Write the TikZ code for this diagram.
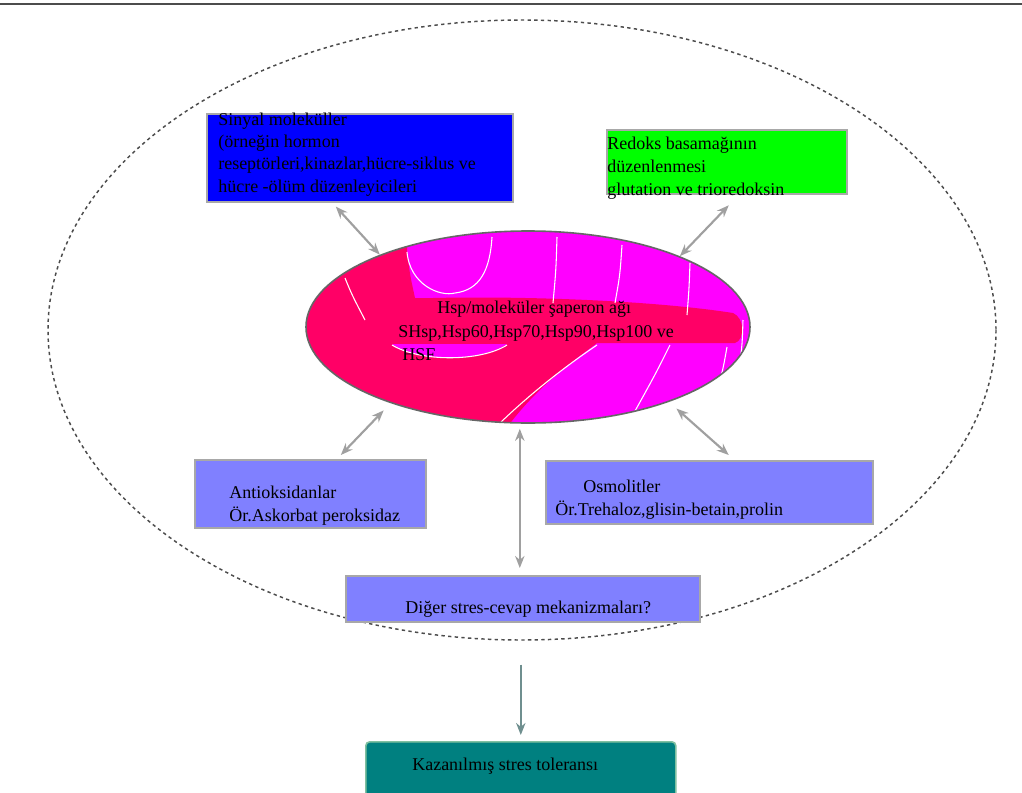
\documentclass[tikz,border=0pt]{standalone}
\usepackage{fontspec}
\setmainfont{Liberation Serif}
\usetikzlibrary{shapes.geometric,arrows.meta,calc}
\definecolor{boxblue}{HTML}{0000FF}
\definecolor{boxgreen}{HTML}{00FF00}
\definecolor{boxlav}{HTML}{8080FF}
\definecolor{hspmag}{HTML}{FF00FF}
\definecolor{hspred}{HTML}{FF0066}
\definecolor{tealbox}{HTML}{008080}
\definecolor{tealedge}{HTML}{80C0A0}
\definecolor{framegray}{HTML}{A8A8A8}
\definecolor{arrgray}{HTML}{A0A0A0}
\definecolor{downgray}{HTML}{6F8F8F}
\tikzset{
  pbox/.style={draw=framegray, line width=1.2pt, inner sep=0pt, anchor=north west},
  txt/.style={anchor=base west, inner sep=0pt, font=\fontsize{13.5}{16}\selectfont},
  dbl/.style={draw=arrgray, line width=1.6pt,
    {Stealth[length=9pt,width=7pt]}-{Stealth[length=9pt,width=7pt]}},
  downarr/.style={draw=downgray, line width=1.6pt, -{Stealth[length=9pt,width=7pt]}},
  wl/.style={draw=white, line width=0.8pt}
}
\begin{document}
\begin{tikzpicture}[x=0.75pt,y=-0.75pt]
\useasboundingbox (0,0) rectangle (1022,793);
\fill[white] (0,0) rectangle (1022,793);
% top rule
\draw[gray!60!black, line width=1.5pt] (0,4) -- (1022,4);
% outer dashed ellipse
\draw[gray!60!black, line width=1.1pt, dash pattern=on 2.5pt off 2.5pt] (522,330) ellipse [x radius=474, y radius=310];

% boxes
\node[pbox, fill=boxblue, minimum width=229.5pt, minimum height=66pt] (sig) at (206,113) {};
\node[pbox, fill=boxgreen, minimum width=180pt, minimum height=48pt] (red) at (606,129) {};
\node[pbox, fill=boxlav, minimum width=173.25pt, minimum height=51pt] (anti) at (194,459) {};
\node[pbox, fill=boxlav, minimum width=245.25pt, minimum height=47.25pt] (osmo) at (545,460) {};
\node[pbox, fill=boxlav, minimum width=265.5pt, minimum height=34.5pt] (dig) at (345,575) {};
\node[pbox, draw=tealedge, fill=tealbox, rounded corners=3pt, minimum width=232.5pt, minimum height=45pt] (kaz) at (365,741) {};

% chaperone ellipse
\begin{scope}
\clip (528,327) ellipse [x radius=222, y radius=96];
\fill[hspmag] (290,220) rectangle (770,440);
\fill[hspred] (290,220) -- (407,220) -- (407,252) .. controls (410,275) .. (415,298) -- (433,298)
  .. controls (520,296) and (650,300) .. (733,313) .. controls (745,318) and (745,340) .. (735,343)
  -- (597,343) .. controls (560,370) and (527,397) .. (498,440) -- (290,440) -- cycle;
\fill[hspmag] (392,344) .. controls (420,362) and (480,362) .. (507,344) -- cycle;
\draw[wl] (345,278) .. controls (352,295) .. (365,320);
\draw[wl] (407,252) .. controls (410,285) and (440,297) .. (455,293) .. controls (480,290) and (490,270) .. (492,237);
\draw[wl] (557,237) .. controls (556,270) .. (553,303);
\draw[wl] (622,245) .. controls (620,275) .. (615,303);
\draw[wl] (690,263) .. controls (689,290) .. (687,315);
\draw[wl] (743,320) .. controls (742,350) .. (737,377);
\draw[wl] (597,345) .. controls (560,370) and (527,397) .. (500,423);
\draw[wl] (670,345) .. controls (655,375) .. (630,420);
\draw[wl] (727,347) .. controls (722,375) .. (712,400);
\draw[wl] (392,345) .. controls (420,362) and (480,362) .. (507,345);
\end{scope}
\node[ellipse, draw=gray!80!black, line width=1.2pt, minimum width=333pt, minimum height=144pt, inner sep=0pt] (hsp) at (528,327) {};

% texts
\node[txt] (s1) at (218,125) {Sinyal moleküller};
\node[txt] (s2) at (218,147) {(örneğin hormon};
\node[txt] (s3) at (218,169) {reseptörleri,kinazlar,hücre-siklus ve};
\node[txt] (s4) at (218,192) {hücre -ölüm düzenleyicileri};
\node[txt] (r1) at (607,149) {Redoks basamağının};
\node[txt] (r2) at (607,172) {düzenlenmesi};
\node[txt] (r3) at (607,195) {glutation ve trioredoksin};
\node[txt] (h1) at (437,313) {Hsp/moleküler şaperon ağı};
\node[txt] (h2) at (398,337) {SHsp,Hsp60,Hsp70,Hsp90,Hsp100 ve};
\node[txt] (h3) at (402,360) {HSF};
\node[txt] (a1) at (229,498) {Antioksidanlar};
\node[txt] (a2) at (229,521) {Ör.Askorbat peroksidaz};
\node[txt] (o1) at (583,492) {Osmolitler};
\node[txt] (o2) at (555,515) {Ör.Trehaloz,glisin-betain,prolin};
\node[txt] (d1) at (405,613) {Diğer stres-cevap mekanizmaları?};
\node[txt] (k1) at (412,770) {Kazanılmış stres toleransı};

% connectors
\draw[dbl] ([xshift=-18pt,yshift=-3pt]sig.south) -- (hsp.154);
\draw[dbl] ([xshift=1.5pt,yshift=-8pt]red.south) -- (hsp.25);
\draw[dbl, shorten >=7.5pt] ([xshift=22.9pt,yshift=3pt]anti.north) -- (hsp.209);
\draw[dbl, shorten >=7.5pt] ([xshift=14.6pt,yshift=3.75pt]osmo.north) -- (hsp.-28);
\draw[dbl, shorten >=3.75pt] ([xshift=-2.25pt,yshift=5.25pt]dig.north) -- ($(dig.north |- hsp.south)+(-2.25pt,0)$);
\draw[downarr, shorten <=31.5pt, shorten >=4.5pt] (kaz.north |- dig.south) -- (kaz.north);
\end{tikzpicture}
\end{document}
